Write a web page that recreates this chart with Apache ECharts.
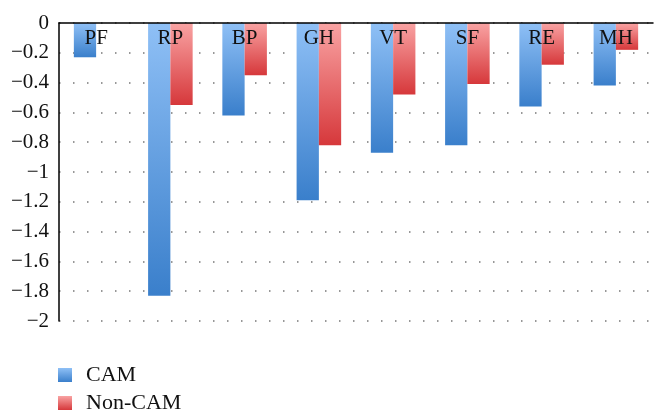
<!DOCTYPE html>
<html><head><meta charset="utf-8">
<script src="https://cdn.jsdelivr.net/npm/echarts@6/dist/echarts.min.js"></script>
<style>html,body{margin:0;padding:0;background:#fff}#c{width:667px;height:420px}</style>
</head><body><div id="c"></div>
<script>
const categories = ['PF','RP','BP','GH','VT','SF','RE','MH'];
const camValues = [-0.23,-1.83,-0.62,-1.19,-0.87,-0.82,-0.56,-0.42];
const nonCamValues = [0,-0.55,-0.35,-0.82,-0.48,-0.41,-0.28,-0.18];
const yTicks = [0,-0.2,-0.4,-0.6,-0.8,-1,-1.2,-1.4,-1.6,-1.8,-2];

const font = '"Liberation Serif","Times New Roman",serif';
const grad = (a,b)=>new echarts.graphic.LinearGradient(0,0,0,1,[{offset:0,color:a},{offset:1,color:b}]);
const legendText = {fontFamily:font,fontSize:22,color:'#111',padding:[0,0,0,9]};
const chart = echarts.init(document.getElementById('c'));
chart.setOption({
  animation:false,
  grid:{left:59,right:14,top:23,bottom:99},
  legend:[
    {left:53,top:359,icon:'rect',itemWidth:14,itemHeight:14,textStyle:legendText,data:['CAM']},
    {left:53,top:387,icon:'rect',itemWidth:14,itemHeight:14,textStyle:legendText,data:['Non-CAM']}
  ],
  xAxis:{type:'category',data:categories,z:10,position:'top',
    axisLine:{onZero:false,lineStyle:{color:'#000',width:1.5}},
    axisTick:{show:false},
    axisLabel:{inside:true,margin:5,fontFamily:font,fontSize:21,color:'#111'}},
  yAxis:{type:'value',min:-2,max:0,interval:0.2,
    axisLine:{show:true,lineStyle:{color:'#000',width:1.5}},
    axisTick:{show:false},
    axisLabel:{margin:10,fontFamily:font,fontSize:21,color:'#111',
      formatter:v=>{const r=Math.round(v*10)/10; return r===0?'0':(r<0?'\u2212':'')+String(Math.abs(r));}},
    splitLine:{show:true,lineStyle:{color:'#777',width:1.5,type:[1.5,12.5]}}},
  series:[
    {name:'CAM',type:'bar',data:camValues,barGap:'0%',barCategoryGap:'40%',
     itemStyle:{color:grad('#8fc0f6','#3a7fcb')}},
    {name:'Non-CAM',type:'bar',data:nonCamValues,
     itemStyle:{color:grad('#f9a3a3','#d6383b')}}
  ]
});
</script></body></html>
